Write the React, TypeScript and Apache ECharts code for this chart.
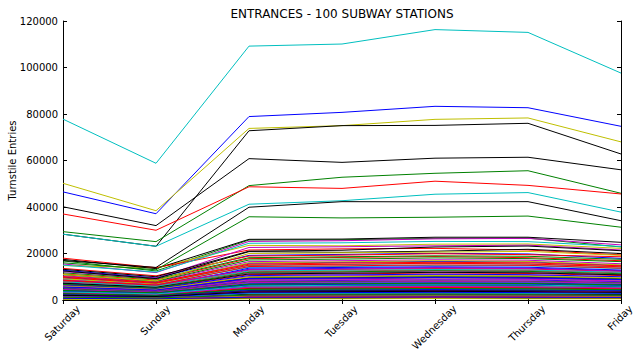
import React, { useEffect, useRef } from "react";
import * as echarts from "echarts";

const days = ["Saturday", "Sunday", "Monday", "Tuesday", "Wednesday", "Thursday", "Friday"];
const chartTitle = "ENTRANCES - 100 SUBWAY STATIONS";
const yAxisTitle = "Turnstile Entries";
const yMin = 0;
const yMax = 120000;
const yStep = 20000;

// Each row: Sat, Sun, Mon, Tue, Wed, Thu, Fri
const stations01to20: number[][] = [
  [9800, 7400, 15800, 16200, 16600, 16400, 14900],
  [16800, 12500, 25800, 25900, 26500, 26600, 22800],
  [11200, 8600, 17800, 18300, 18700, 18200, 16900],
  [77800, 58800, 109200, 110100, 116300, 115100, 97600],
  [15500, 11800, 25200, 25500, 26300, 26500, 23700],
  [14800, 13800, 23500, 23300, 24000, 24100, 22200],
  [17500, 13500, 26100, 26200, 27000, 27000, 24800],
  [46500, 37100, 78900, 80700, 83300, 82700, 74700],
  [6200, 4700, 9600, 9900, 10300, 10100, 9200],
  [18000, 13900, 21500, 22000, 22200, 21500, 19400],
  [15000, 12000, 24400, 24600, 25200, 25100, 23000],
  [7400, 5600, 11600, 11900, 12400, 12100, 11000],
  [50200, 38400, 73800, 75000, 77700, 78300, 68000],
  [28300, 23100, 72800, 75000, 75100, 76000, 62800],
  [5100, 3900, 8200, 8400, 8700, 8600, 7900],
  [29400, 25100, 49200, 52800, 54500, 55600, 45900],
  [37000, 30000, 48700, 48000, 51100, 49300, 45600],
  [28300, 23100, 41200, 42700, 45500, 46200, 37800],
  [10400, 7900, 16500, 16900, 17300, 17100, 15600],
  [3400, 2500, 5800, 6000, 6100, 6000, 5500],
];

const stations21to40: number[][] = [
  [40100, 32000, 60800, 59200, 61000, 61400, 56000],
  [12800, 9500, 19200, 19600, 20100, 19800, 17900],
  [16000, 13000, 35800, 35300, 35600, 36100, 31300],
  [13600, 10400, 18900, 19300, 19900, 19500, 18600],
  [8900, 6700, 14100, 14400, 14900, 14700, 13500],
  [4600, 3500, 7900, 8100, 8300, 8200, 7600],
  [2100, 1600, 3700, 3800, 3900, 3800, 3500],
  [17000, 14000, 39900, 42300, 42200, 42300, 34100],
  [8300, 6300, 13200, 13600, 13900, 13700, 12600],
  [11700, 9000, 18200, 18600, 19000, 18800, 17500],
  [6900, 5200, 10900, 11200, 11600, 11400, 10500],
  [9400, 7100, 14800, 15200, 15700, 15400, 14100],
  [12200, 9400, 22600, 22900, 23300, 23600, 21500],
  [4000, 3000, 6700, 6900, 7100, 7000, 6400],
  [13200, 10000, 21000, 21400, 22800, 23200, 21200],
  [7000, 5400, 13700, 14000, 14300, 14100, 12900],
  [10900, 8100, 17200, 17600, 18100, 17800, 16500],
  [8000, 6100, 12800, 13100, 13500, 13300, 12300],
  [2800, 2100, 4700, 4800, 5000, 4900, 4500],
  [6400, 4900, 10100, 10400, 10800, 10600, 9800],
];

const stations41to60: number[][] = [
  [9100, 6900, 16000, 16400, 16900, 16600, 15100],
  [12500, 9200, 20800, 20500, 21000, 21800, 20000],
  [3700, 2800, 6300, 6400, 6600, 6500, 6000],
  [5500, 4200, 8900, 9100, 9500, 9300, 8600],
  [10100, 7600, 15400, 15900, 16200, 16000, 14700],
  [4300, 3300, 7300, 7500, 7700, 7600, 7000],
  [8600, 6500, 13000, 13300, 13800, 13500, 12400],
  [1700, 1300, 3000, 3100, 3200, 3100, 2900],
  [5800, 4400, 9300, 9500, 9900, 9700, 8900],
  [6600, 5000, 10500, 10800, 11100, 10900, 10000],
  [2400, 1800, 4100, 4200, 4300, 4300, 3900],
  [7700, 5800, 12200, 12500, 12900, 12700, 11700],
  [3100, 2400, 5300, 5400, 5600, 5500, 5100],
  [5300, 4000, 8500, 8700, 9000, 8900, 8200],
  [11000, 8200, 20000, 20300, 20600, 20900, 19200],
  [3600, 2700, 6000, 6200, 6400, 6300, 5800],
  [1200, 900, 2200, 2300, 2300, 2300, 2100],
  [4800, 3600, 7700, 7900, 8100, 8000, 7400],
  [9600, 7200, 15000, 15400, 15800, 15500, 14300],
  [2000, 1500, 3400, 3500, 3600, 3500, 3200],
];

const stations61to80: number[][] = [
  [6000, 4600, 9000, 9200, 9600, 9400, 8700],
  [2600, 2000, 4500, 4600, 4700, 4600, 4200],
  [7200, 5500, 11200, 11500, 11900, 11700, 10800],
  [4200, 3200, 7000, 7200, 7400, 7300, 6700],
  [1500, 1100, 2600, 2700, 2800, 2700, 2500],
  [8500, 6400, 14400, 14700, 15100, 14900, 13700],
  [3300, 2500, 5600, 5800, 5900, 5800, 5300],
  [700, 500, 1300, 1300, 1400, 1300, 1200],
  [5900, 4500, 9900, 10100, 10500, 10300, 9500],
  [2300, 1700, 3900, 4000, 4100, 4000, 3700],
  [3900, 2900, 6500, 6700, 6900, 6800, 6200],
  [6700, 5100, 11900, 12100, 12600, 12300, 11300],
  [1900, 1400, 3200, 3300, 3400, 3300, 3000],
  [900, 700, 1700, 1700, 1800, 1700, 1600],
  [4500, 3400, 7500, 7700, 7900, 7800, 7200],
  [1400, 1000, 2400, 2500, 2600, 2500, 2300],
  [2900, 2200, 5000, 5100, 5300, 5200, 4800],
  [5600, 4300, 9200, 9400, 9700, 9500, 8800],
  [1100, 800, 1900, 2000, 2100, 2000, 1800],
  [3000, 2300, 5100, 5200, 5400, 5300, 4900],
];

const stations81to100: number[][] = [
  [7800, 5900, 12500, 12800, 13100, 12900, 11900],
  [2200, 1700, 3600, 3700, 3800, 3700, 3400],
  [500, 400, 900, 900, 1000, 900, 900],
  [1300, 1000, 2500, 2600, 2600, 2600, 2400],
  [2500, 1900, 4300, 4400, 4500, 4400, 4100],
  [4100, 3100, 6800, 7000, 7200, 7100, 6500],
  [800, 600, 1500, 1500, 1600, 1500, 1400],
  [1600, 1200, 2800, 2900, 3000, 2900, 2700],
  [3200, 2400, 5500, 5700, 5800, 5700, 5200],
  [1000, 800, 1800, 1800, 1900, 1800, 1700],
  [400, 300, 700, 700, 800, 700, 700],
  [1800, 1300, 3100, 3200, 3300, 3200, 2900],
  [2700, 2000, 4600, 4700, 4900, 4800, 4400],
  [600, 500, 1100, 1100, 1200, 1100, 1000],
  [3500, 2600, 6100, 6300, 6500, 6400, 5900],
  [1400, 1100, 2000, 2100, 2200, 2100, 1900],
  [300, 200, 500, 500, 600, 500, 500],
  [2000, 1500, 3500, 3600, 3700, 3600, 3300],
  [700, 500, 1200, 1200, 1300, 1200, 1100],
  [1200, 900, 2100, 2200, 2200, 2200, 2000],
];

const lineColors = ["#0000ff", "#008000", "#ff0000", "#00bfbf", "#bf00bf", "#bfbf00", "#000000"];

const FONT = "DejaVu Sans";

function measure(text: string, size: number): number {
  const c = document.createElement("canvas");
  const ctx = c.getContext("2d");
  if (!ctx) return text.length * size * 0.6;
  ctx.font = `${size}px "${FONT}"`;
  return ctx.measureText(text).width;
}

export default function App() {
  const ref = useRef<HTMLDivElement>(null);
  useEffect(() => {
    if (!ref.current) return;
    const chart = echarts.init(ref.current, undefined, { renderer: "svg" });
    const all = [...stations01to20, ...stations21to40, ...stations41to60, ...stations61to80, ...stations81to100];

    // Emulate matplotlib's rotated, centred tick labels: push each label down
    // so its rotated bounding box is centred under its tick.
    const dayItems = days.map((d) => {
      const w = measure(d, 10);
      const D = 1 + (w + 8) * 0.3536;
      const padR = Math.round(1.414 * D);
      const padT = Math.max(0, Math.round(0.707 * D - 6));
      return {
        value: d,
        textStyle: {
          fontSize: 10,
          fontFamily: FONT,
          color: "#000",
          align: "center",
          verticalAlign: "top",
          padding: [padT, padR, 0, 0],
        },
      };
    });

    const axisLineStyle = { color: "#000", width: 1 };
    chart.setOption({
      animation: false,
      backgroundColor: "#ffffff",
      title: {
        text: chartTitle,
        left: 337,
        top: 3,
        textAlign: "center",
        textStyle: { fontSize: 12, fontWeight: "normal", color: "#000", fontFamily: FONT },
      },
      grid: { left: 63, right: 20, top: 21, bottom: 59, show: false, containLabel: false, outerBoundsMode: "none" },
      xAxis: [
        {
          type: "category",
          data: dayItems,
          boundaryGap: false,
          axisLine: { lineStyle: axisLineStyle },
          axisTick: { show: true, inside: true, length: 4, lineStyle: axisLineStyle },
          axisLabel: {
            rotate: 45,
            interval: 0,
            align: "center",
            verticalAlign: "top",
            margin: 4,
            fontSize: 10,
            fontFamily: FONT,
            color: "#000",
          },
          splitLine: { show: false },
        },
        {
          type: "category",
          data: days,
          boundaryGap: false,
          position: "top",
          axisLine: { lineStyle: axisLineStyle },
          axisTick: { show: true, inside: true, length: 4, lineStyle: axisLineStyle },
          axisLabel: { show: false },
          splitLine: { show: false },
        },
      ],
      yAxis: [
        {
          type: "value",
          min: yMin,
          max: yMax,
          interval: yStep,
          axisLine: { show: true, lineStyle: axisLineStyle },
          axisTick: { show: true, inside: true, length: 4, lineStyle: axisLineStyle },
          axisLabel: {
            color: "#000",
            fontSize: 10,
            fontFamily: FONT,
            margin: 5,
            formatter: (v: number) => String(v),
          },
          splitLine: { show: false },
          name: yAxisTitle,
          nameLocation: "middle",
          nameGap: 46,
          nameMoveOverlap: false,
          nameTextStyle: { color: "#000", fontSize: 10, fontFamily: FONT },
        },
        {
          type: "value",
          position: "right",
          min: yMin,
          max: yMax,
          interval: yStep,
          axisLine: { show: true, lineStyle: axisLineStyle },
          axisTick: { show: true, inside: true, length: 4, lineStyle: axisLineStyle },
          axisLabel: { show: false },
          splitLine: { show: false },
        },
      ],
      series: all.map((row, i) => ({
        type: "line",
        name: "station" + (i + 1),
        data: row,
        xAxisIndex: 0,
        yAxisIndex: 0,
        symbol: "none",
        silent: true,
        lineStyle: { width: 1, color: lineColors[i % lineColors.length] },
        itemStyle: { color: lineColors[i % lineColors.length] },
        emphasis: { disabled: true },
      })),
    });
    return () => chart.dispose();
  }, []);
  return <div ref={ref} style={{ position: "fixed", left: 0, top: 0, width: 641, height: 359 }} />;
}
